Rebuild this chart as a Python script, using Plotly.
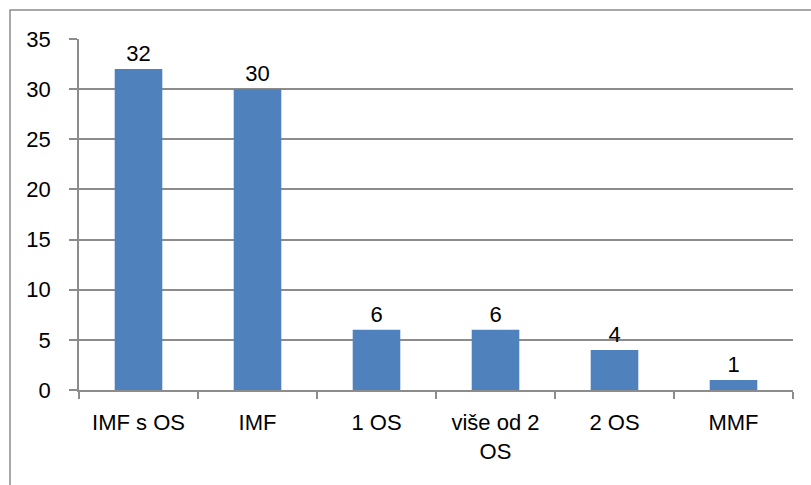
import plotly.graph_objects as go

categories = ["IMF s OS", "IMF", "1 OS", "više od 2<br>OS", "2 OS", "MMF"]
values = [32, 30, 6, 6, 4, 1]
labels = ["32", "30", "6", "6", "4", "1"]

W, H = 811, 485
L, R, T, B = 79, 18, 39, 95
pw, ph = W - L - R, H - T - B

def px_to_paper_x(px):
    return (px - L) / pw

def px_to_paper_y(py):
    return (H - B - py) / ph

FONT = "Liberation Sans"
FS = 22

fig = go.Figure(go.Bar(
    x=categories, y=values, text=labels, textposition="outside",
    marker=dict(color="#4F81BD", line=dict(width=0)),
    textfont=dict(color="black", size=FS, family=FONT),
    cliponaxis=False,
))

fig.update_layout(
    width=W, height=H,
    margin=dict(l=L, r=R, t=T, b=B),
    paper_bgcolor="white", plot_bgcolor="white",
    bargap=0.6, showlegend=False,
    font=dict(family=FONT, size=FS, color="black"),
    shapes=[dict(type="rect", xref="paper", yref="paper",
                 x0=px_to_paper_x(10), x1=px_to_paper_x(813),
                 y0=px_to_paper_y(495), y1=px_to_paper_y(10),
                 line=dict(color="#8C8C8C", width=1.5), layer="below")],
)
fig.update_xaxes(showline=True, linecolor="#8C8C8C", linewidth=1.5,
                 ticks="outside", tickson="boundaries", ticklen=7,
                 tickcolor="#8C8C8C", tickwidth=1.5, showgrid=False,
                 tickfont=dict(size=FS, family=FONT), ticklabelstandoff=12)
fig.update_yaxes(range=[0, 35], dtick=5, showline=True, linecolor="#8C8C8C",
                 linewidth=1.5, ticks="outside", ticklen=8, tickcolor="#8C8C8C",
                 tickwidth=1.5, showgrid=True, gridcolor="#8C8C8C", gridwidth=1.5,
                 zeroline=False, ticklabelstandoff=14,
                 tickfont=dict(size=FS, family=FONT))

fig.write_html("out.html", config={"displayModeBar": False},
               post_script="document.body.style.margin='0';document.body.style.padding='0';")
